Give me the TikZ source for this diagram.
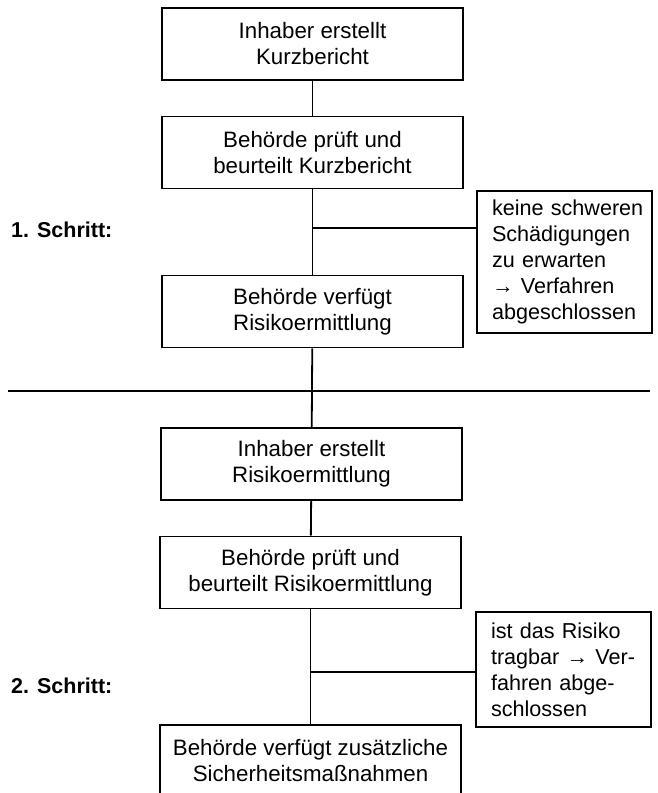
\documentclass[tikz,border=0pt]{standalone}
\usepackage{fontspec}
\setmainfont{Liberation Sans}
\usetikzlibrary{calc}

\tikzset{
	box/.style={draw, line width=1.8pt, minimum width=301pt, minimum height=72pt, align=center, inner sep=0pt, font=\fontsize{22.3}{26}\selectfont},
	sidebox/.style={draw, line width=1.8pt, minimum width=175pt, inner xsep=0pt, text width=145pt, align=left, font=\fontsize{21.6}{26}\selectfont},
	schrittlabel/.style={anchor=west, inner sep=0pt, font=\fontsize{21.5}{26}\selectfont\bfseries},
	link/.style={line width=1.8pt}
}

\begin{document}
\begin{tikzpicture}[x=1pt, y=-1pt]
		%%%%% START %%%%%
		\useasboundingbox (0,0) rectangle (658,793);
		\clip (0,0) rectangle (658,793);
		
		% 1. Schritt
		\node[box] (inhaber1) at (312.5, 44) {Inhaber erstellt\\Kurzbericht};
		\node[box] (pruef1) at (312.5, 152.5) {Behörde prüft und\\beurteilt Kurzbericht};
		\node[box] (verfueg1) at (312.5, 311.5) {Behörde verfügt\\Risikoermittlung};
		\node[sidebox, minimum height=142pt] (ende1) at (564.5, 262)
			{\mbox{keine schweren}\\\mbox{Schädigungen}\\\mbox{zu erwarten}\\\mbox{→ Verfahren}\\\mbox{abgeschlossen}};
		\node[schrittlabel] (schritt1) at (11, 230) {1. Schritt:};
		
		\draw[link] (inhaber1) -- (pruef1);
		\draw[link] (pruef1) -- (verfueg1);
		\coordinate (ast1) at (312.5, 228);
		\draw[link] (ast1) -- (ast1 -| ende1.west);
		
		% trennlinie
		\draw[line width=1.8pt] (8, 391) -- (650, 391);
		
		% 2. Schritt
		\node[box] (inhaber2) at (311.5, 464) {Inhaber erstellt\\Risikoermittlung};
		\node[box] (pruef2) at (310.5, 572.5) {Behörde prüft und\\beurteilt Risikoermittlung};
		\node[box] (verfueg2) at (310.5, 761) {Behörde verfügt zusätzliche\\Sicherheitsmaßnahmen};
		\node[sidebox, minimum height=115pt] (ende2) at (563.5, 669.5)
			{\mbox{ist das Risiko}\\\mbox{tragbar → Ver-}\\\mbox{fahren abge-}\\\mbox{schlossen}};
		\node[schrittlabel] (schritt2) at (11, 686) {2. Schritt:};
		
		\draw[link] (verfueg1) -- (inhaber2);
		\draw[link] (inhaber2) -- (pruef2);
		\draw[link] (pruef2) -- (verfueg2);
		\coordinate (ast2) at (310.5, 672);
		\draw[link] (ast2) -- (ast2 -| ende2.west);
		
		%%%%% END %%%%%
	\end{tikzpicture}
\end{document}
